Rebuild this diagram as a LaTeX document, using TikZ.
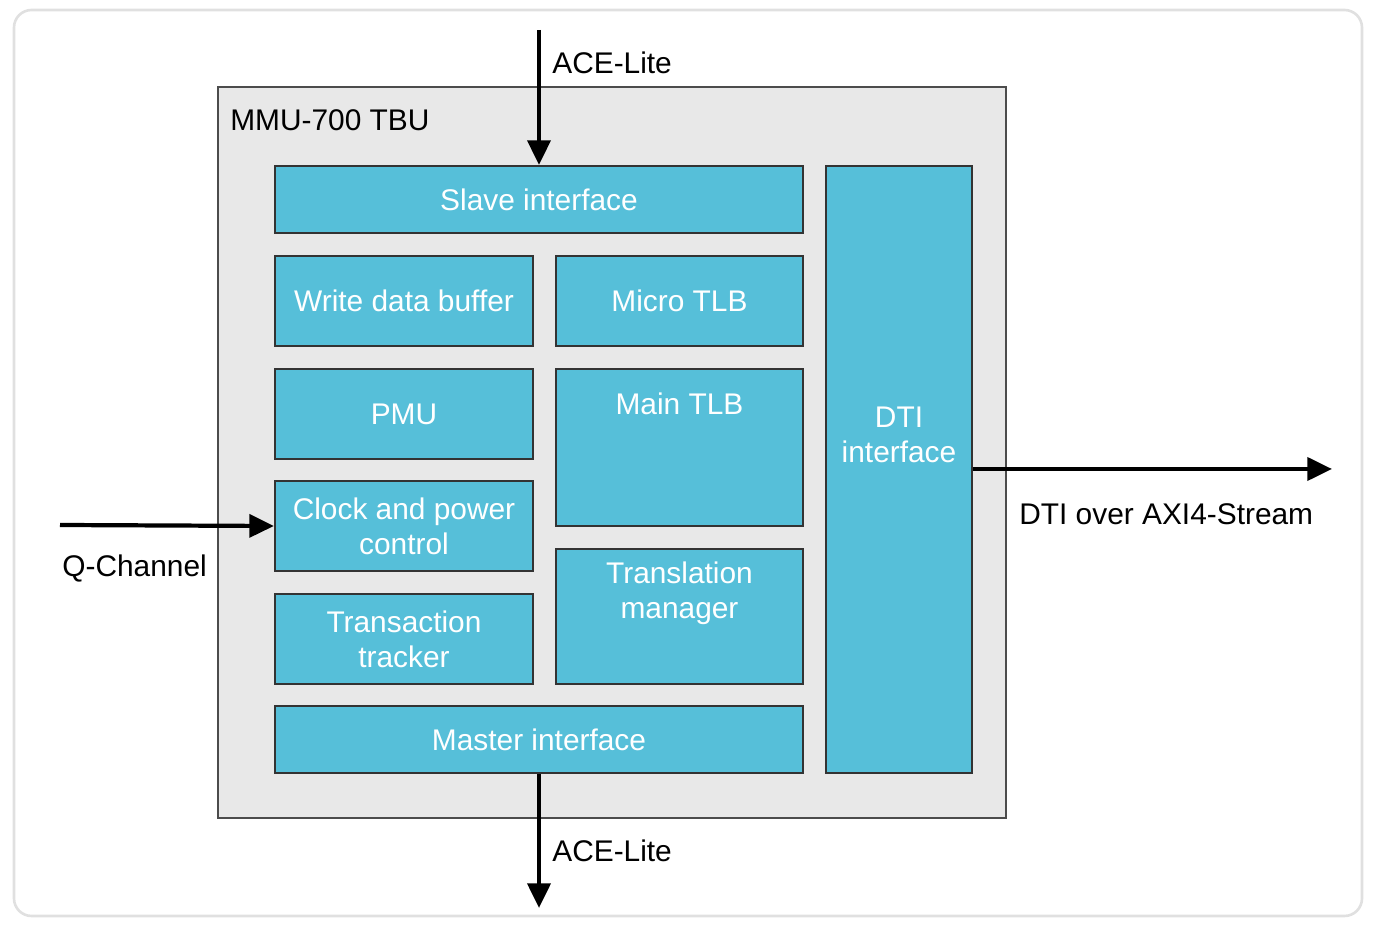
\documentclass[tikz,border=0pt]{standalone}
\usepackage{fontspec}
\setmainfont{Liberation Sans}
\usetikzlibrary{arrows.meta}
\definecolor{blu}{HTML}{56BFD9}
\definecolor{bg}{HTML}{E8E8E8}
\begin{document}
\begin{tikzpicture}[x=0.02cm,y=-0.02cm,
  blk/.style={draw=black!80,line width=1.2pt,fill=blu,text=white,align=center,font=\fontsize{17}{20}\selectfont,inner sep=0pt},
  lab/.style={font=\fontsize{17}{20}\selectfont,text=black,anchor=west,inner sep=0pt},
  arr/.style={line width=2.4pt,-{Triangle[length=14pt,width=13pt]}}]
\useasboundingbox (0,0) rectangle (1374,928);
\draw[black!12,line width=1.5pt,rounded corners=10pt] (14,10) rectangle (1362,916);
\draw[fill=bg,draw=black!70,line width=1.2pt] (218,87) rectangle (1006,818);
\node[lab] (title) at (230,120) {MMU-700 TBU};
\newcommand{\blkbox}[6]{\node[blk,minimum width={(#4-#2)*0.02cm},minimum height={(#5-#3)*0.02cm}] (#1) at ({(#2+#4)/2},{(#3+#5)/2}) {#6};}
\blkbox{slave}{275}{166}{803}{233}{Slave interface}
\blkbox{wdb}{275}{256}{533}{346}{Write data buffer}
\blkbox{mtlb}{556}{256}{803}{346}{Micro TLB}
\blkbox{pmu}{275}{369}{533}{459}{PMU}
\blkbox{main}{556}{369}{803}{526}{Main TLB\\[30pt]}
\blkbox{clk}{275}{481}{533}{571}{Clock and power\\control}
\blkbox{tt}{275}{594}{533}{684}{Transaction\\tracker}
\blkbox{tm}{556}{549}{803}{684}{Translation\\manager\\[10pt]}
\blkbox{master}{275}{706}{803}{773}{Master interface}
\blkbox{dti}{826}{166}{972}{773}{DTI\\interface\\[20pt]}
\coordinate (topin) at (539,30);
\coordinate (botout) at (539,908);
\coordinate (qin) at (60,525);
\coordinate (dtiout) at (1332,469);
\draw[arr] (topin) -- (slave.north);
\draw[arr] (master.south) -- (botout);
\draw[arr] (qin) -- (clk.west);
\draw[arr] (dti.east |- dtiout) -- (dtiout);
\node[lab] (l1) at (552,63) {ACE-Lite};
\node[lab] (l2) at (552,851) {ACE-Lite};
\node[lab] (l3) at (62,569) {Q-Channel};
\node[lab] (l4) at (1019,514) {DTI over AXI4-Stream};
\end{tikzpicture}
\end{document}
